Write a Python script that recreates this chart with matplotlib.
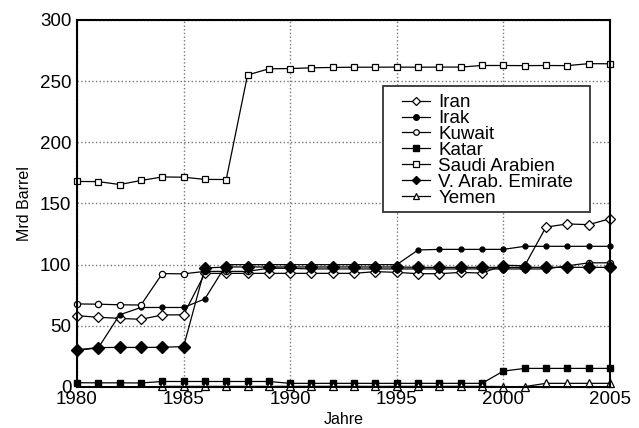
import matplotlib
matplotlib.use("Agg")
import matplotlib.pyplot as plt
from matplotlib.patches import Rectangle
import numpy as np

years = list(range(1980, 2006))

iran = [58.3, 57.0, 56.1, 55.3, 58.9, 59.0, 92.9, 92.9, 92.9, 92.9, 92.9, 92.9, 92.9,
        92.9, 94.3, 93.7, 92.6, 92.6, 93.7, 93.1, 99.5, 99.1, 130.7, 133.3, 132.7, 137.5]
irak = [30.0, 32.0, 59.0, 65.0, 65.0, 65.0, 72.0, 100.0, 100.0, 100.0, 100.0, 100.0, 100.0,
        100.0, 100.0, 100.0, 112.0, 112.5, 112.5, 112.5, 112.5, 115.0, 115.0, 115.0, 115.0, 115.0]
kuwait = [67.9, 67.7, 67.2, 67.0, 92.7, 92.5, 94.5, 94.5, 94.5, 97.1, 97.0, 96.5, 96.5,
          96.5, 96.5, 96.5, 96.5, 96.5, 96.5, 96.5, 96.5, 96.5, 96.5, 99.0, 101.5, 101.5]
katar = [3.5, 3.4, 3.4, 3.3, 4.5, 4.5, 4.5, 4.5, 4.5, 4.5, 3.0, 3.0, 3.0,
         3.0, 3.0, 3.0, 3.0, 3.0, 3.0, 3.0, 13.0, 15.2, 15.2, 15.2, 15.2, 15.2]
saudi = [168.0, 167.9, 165.5, 168.8, 171.7, 171.5, 169.7, 169.6, 255.0, 260.1, 260.3, 260.9, 261.2,
         261.4, 261.4, 261.5, 261.4, 261.5, 261.5, 262.8, 262.8, 262.7, 262.8, 262.7, 264.3, 264.2]
uae = [30.4, 32.2, 32.4, 32.3, 32.5, 33.0, 97.2, 98.1, 98.1, 98.1, 98.1, 98.1, 98.1,
       98.1, 98.1, 98.1, 97.8, 97.8, 97.8, 97.8, 97.8, 97.8, 97.8, 97.8, 97.8, 97.8]
yemen = [np.nan, np.nan, np.nan, np.nan, 0.5, 0.5, 0.5, 0.5, 0.5, 0.5, 0.5, 0.5, 0.5,
         0.5, 0.5, 0.5, 0.5, 0.5, 0.5, 0.5, 0.3, 0.3, 3.0, 3.0, 3.0, 3.0]

plt.rcParams['font.family'] = ['Liberation Sans', 'DejaVu Sans']

fig = plt.figure(figsize=(6.39, 4.28), dpi=100)
ax = fig.add_axes([0.1205, 0.0958, 0.834, 0.8575])

lw = 0.9
style = dict(color='black', lw=lw, mec='black', clip_on=False)
ax.plot(years, iran, marker='D', ms=5, mfc='white', mew=0.9, label='Iran', **style)
ax.plot(years, irak, marker='o', ms=3.5, mfc='black', label='Irak', **style)
ax.plot(years, kuwait, marker='o', ms=4.5, mfc='white', mew=0.9, label='Kuwait', **style)
ax.plot(years, katar, marker='s', ms=4.5, mfc='black', label='Katar', **style)
ax.plot(years, saudi, marker='s', ms=5, mfc='white', mew=0.9, label='Saudi Arabien', **style)
ax.plot(years, uae, marker='D', ms=6, mfc='black', label='V. Arab. Emirate', **style)
ax.plot(years, yemen, marker='^', ms=5.5, mfc='white', mew=0.9, label='Yemen', **style)

ax.set_xlim(1980, 2005)
ax.set_ylim(0, 300)
ax.set_xticks(range(1980, 2006, 5))
ax.set_yticks(range(0, 301, 50))
ax.grid(True, linestyle=':', color='#777777', linewidth=1.0)
ax.set_axisbelow(True)
for s in ax.spines.values():
    s.set_linewidth(1.5)
    s.set_zorder(6)
ax.tick_params(direction='in', length=0, labelsize=13.5, pad=4)
ax.tick_params(axis='x', pad=3)

ax.set_xlabel('Jahre', fontsize=11.5, labelpad=3)
ax.set_ylabel('Mrd Barrel', fontsize=11.5, labelpad=6)

# legend box drawn by hand
box = Rectangle((0.574, 0.477), 0.3885, 0.343, transform=ax.transAxes, facecolor='white',
                edgecolor='#333333', linewidth=1.3, zorder=4.5, clip_on=False)
ax.add_patch(box)
leg = ax.legend(loc='upper left', bbox_to_anchor=(0.610, 0.798), fontsize=13.5, numpoints=1,
                handlelength=1.5, handletextpad=0.43, labelspacing=-0.065, borderpad=0,
                frameon=False, borderaxespad=0)
for h in leg.legend_handles:
    h.set_markersize(4)

fig.savefig('out.png', dpi=100)
